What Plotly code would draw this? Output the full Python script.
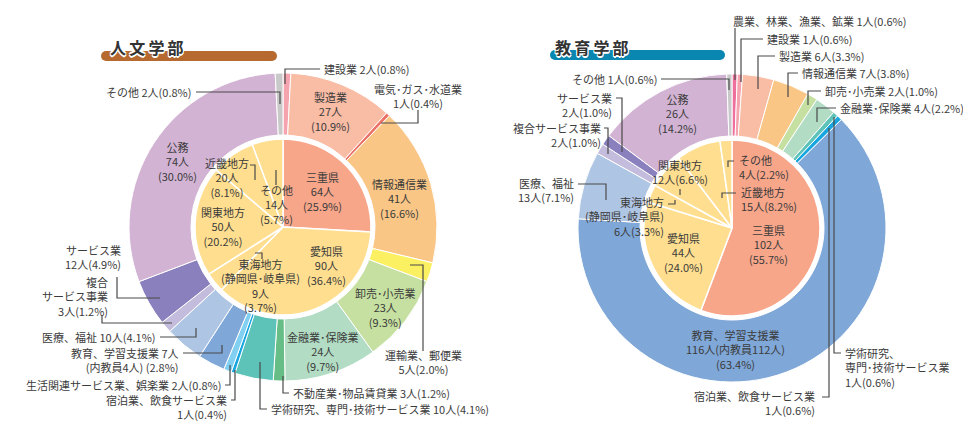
import plotly.graph_objects as go

W, H = 963, 423

# ---------------- data ----------------
hum_region_labels = ["三重県", "愛知県", "東海地方", "関東地方", "近畿地方", "その他"]
hum_region_values = [64, 90, 9, 50, 20, 14]
hum_region_pct = ["25.9", "36.4", "3.7", "20.2", "8.1", "5.7"]

hum_ind_labels = ["建設業", "製造業", "電気・ガス・水道業", "情報通信業", "運輸業、郵便業",
                  "卸売・小売業", "金融業・保険業", "不動産業・物品賃貸業",
                  "学術研究、専門・技術サービス業", "宿泊業、飲食サービス業",
                  "生活関連サービス業、娯楽業", "教育、学習支援業", "医療、福祉",
                  "複合サービス事業", "サービス業", "公務", "その他"]
hum_ind_values = [2, 27, 1, 41, 5, 23, 24, 3, 10, 1, 2, 7, 10, 3, 12, 74, 2]
hum_ind_pct = ["0.8", "10.9", "0.4", "16.6", "2.0", "9.3", "9.7", "1.2", "4.1", "0.4",
               "0.8", "2.8", "4.1", "1.2", "4.9", "30.0", "0.8"]

edu_region_labels = ["三重県", "愛知県", "東海地方", "関東地方", "近畿地方", "その他"]
edu_region_values = [102, 44, 6, 12, 15, 4]
edu_region_pct = ["55.7", "24.0", "3.3", "6.6", "8.2", "2.2"]

edu_ind_labels = ["農業、林業、漁業、鉱業", "建設業", "製造業", "情報通信業", "卸売・小売業",
                  "金融業・保険業", "学術研究、専門・技術サービス業", "宿泊業、飲食サービス業",
                  "教育、学習支援業", "医療、福祉", "複合サービス事業", "サービス業", "公務", "その他"]
edu_ind_values = [1, 1, 6, 7, 2, 4, 1, 1, 116, 13, 2, 2, 26, 1]
edu_ind_pct = ["0.6", "0.6", "3.3", "3.8", "1.0", "2.2", "0.6", "0.6", "63.4", "7.1",
               "1.0", "1.0", "14.2", "0.6"]

# ---------------- styles ----------------
IND_COLORS = {
    "農業、林業、漁業、鉱業": "#EF6F9C",
    "建設業": "#F5A3AE",
    "製造業": "#F9BCA5",
    "電気・ガス・水道業": "#EC7267",
    "情報通信業": "#FAC685",
    "運輸業、郵便業": "#FBEF62",
    "卸売・小売業": "#C6E0A1",
    "金融業・保険業": "#B2DDC4",
    "不動産業・物品賃貸業": "#66BE86",
    "学術研究、専門・技術サービス業": "#5DC3B8",
    "宿泊業、飲食サービス業": "#17A6DF",
    "生活関連サービス業、娯楽業": "#82D0F1",
    "教育、学習支援業": "#7FA7D8",
    "医療、福祉": "#AFC5E4",
    "複合サービス事業": "#C4BCDC",
    "サービス業": "#8A80BD",
    "公務": "#D2B3D4",
    "その他": "#C9C9C9",
}
MIE = "#F7A68A"
OTHER_REGION = "#FFDF8F"

FONT = "Noto Sans CJK JP"
TXT = "#3b3b3b"
LINE = "#4a4a4a"

fig = go.Figure()


def dom(cx, cy, r):
    return dict(x=[(cx - r) / W, (cx + r) / W], y=[(H - cy - r) / H, (H - cy + r) / H])


def add_donut(ind_labels, ind_values, reg_labels, reg_values, cx, cy):
    R_OUT, R_HOLE, R_IN = 154, 92, 88
    fig.add_trace(go.Pie(
        labels=ind_labels, values=ind_values, sort=False, direction="clockwise", rotation=0,
        hole=R_HOLE / R_OUT, textinfo="none", hoverinfo="skip", showlegend=False,
        marker=dict(colors=[IND_COLORS[n] for n in ind_labels], line=dict(color="white", width=1)),
        domain=dom(cx, cy, R_OUT)))
    fig.add_trace(go.Pie(
        labels=reg_labels, values=reg_values, sort=False, direction="clockwise", rotation=0,
        textinfo="none", hoverinfo="skip", showlegend=False,
        marker=dict(colors=[MIE] + [OTHER_REGION] * (len(reg_labels) - 1),
                    line=dict(color="white", width=1.5)),
        domain=dom(cx, cy, R_IN)))


add_donut(hum_ind_labels, hum_ind_values, hum_region_labels, hum_region_values, 283, 227)
add_donut(edu_ind_labels, edu_ind_values, edu_region_labels, edu_region_values, 732, 228)

annotations = []
shapes = []


def label(text, x, y, anchor="center", size=11):
    annotations.append(dict(text=text, x=x / W, y=1 - y / H, xref="paper", yref="paper",
                            xanchor=anchor, yanchor="middle", align=anchor, showarrow=False,
                            font=dict(family=FONT, size=size, color=TXT)))


def leader(pts):
    path = "M " + " L ".join(f"{x / W:.5f},{1 - y / H:.5f}" for x, y in pts)
    shapes.append(dict(type="path", path=path, xref="paper", yref="paper",
                       line=dict(color=LINE, width=1.2)))


DATA = {
    "hi": (hum_ind_values, hum_ind_pct),
    "hr": (hum_region_values, hum_region_pct),
    "ei": (edu_ind_values, edu_ind_pct),
    "er": (edu_region_values, edu_region_pct),
}

# (series, index, template, x, y, anchor, leader)
specs = [
    # 人文学部 outer
    ("hi", 16, "その他 {v}人({p}%)", 193, 92, "right", [(196, 92), (280, 92), (280, 104)]),
    ("hi", 0, "建設業 {v}人({p}%)", 322, 69, "left", [(320, 69), (285, 69), (285, 84)]),
    ("hi", 1, "製造業<br>{v}人<br>({p}%)", 330, 112, "center", None),
    ("hi", 2, "電気･ガス･水道業<br>{v}人({p}%)", 418, 96, "center", [(418, 110), (418, 123), (381, 123)]),
    ("hi", 3, "情報通信業<br>{v}人<br>({p}%)", 399, 198, "center", None),
    ("hi", 4, "運輸業、郵便業<br>{v}人({p}%)", 423, 362, "center", [(410, 265), (423, 265), (423, 351)]),
    ("hi", 5, "卸売･小売業<br>{v}人<br>({p}%)", 385, 307, "center", None),
    ("hi", 6, "金融業･保険業<br>{v}人<br>({p}%)", 323, 351, "center", None),
    ("hi", 7, "不動産業･物品賃貸業 {v}人({p}%)", 291, 393, "left", [(283, 376), (283, 393), (289, 393)]),
    ("hi", 8, "学術研究、専門･技術サービス業 {v}人({p}%)", 269, 409, "left", [(260, 362), (260, 409), (267, 409)]),
    ("hi", 9, "宿泊業、飲食サービス業<br>{v}人({p}%)", 229, 407, "right", [(235, 370), (235, 400), (231, 400)]),
    ("hi", 10, "生活関連サービス業、娯楽業 {v}人({p}%)", 223, 385, "right", [(230, 365), (230, 385), (225, 385)]),
    ("hi", 11, "教育、学習支援業 {v}人<br>(内教員4人) ({p}%)", 181, 360, "right", [(222, 345), (222, 353), (183, 353)]),
    ("hi", 12, "医療、福祉 {v}人({p}%)", 158, 337, "right", [(196, 328), (196, 337), (160, 337)]),
    ("hi", 13, "複合<br>サービス事業<br>{v}人({p}%)", 110, 296, "right", [(102, 315), (102, 323), (172, 323)]),
    ("hi", 14, "サービス業<br>{v}人({p}%)", 123, 257, "right", [(117, 277), (117, 298), (160, 298)]),
    ("hi", 15, "公務<br>{v}人<br>({p}%)", 177, 161, "center", None),
    # 人文学部 inner
    ("hr", 0, "三重県<br>{v}人<br>({p}%)", 322, 191, "center", None),
    ("hr", 1, "愛知県<br>{v}人<br>({p}%)", 326, 265, "center", None),
    ("hr", 2, "東海地方<br>(静岡県･岐阜県)<br>{v}人<br>({p}%)", 260, 285, "center", [(255, 253), (262, 253), (262, 259)]),
    ("hr", 3, "関東地方<br>{v}人<br>({p}%)", 223, 226, "center", None),
    ("hr", 4, "近畿地方<br>{v}人<br>({p}%)", 227, 178, "center", [(250, 165), (255, 165), (255, 180)]),
    ("hr", 5, "その他<br>{v}人<br>({p}%)", 276, 205, "center", [(276, 170), (276, 185)]),
    # 教育学部 outer
    ("ei", 0, "農業、林業、漁業、鉱業 {v}人({p}%)", 731, 21, "left", [(735, 28), (735, 80)]),
    ("ei", 1, "建設業 {v}人({p}%)", 765, 39, "left", [(763, 39), (741, 39), (741, 82)]),
    ("ei", 2, "製造業 {v}人({p}%)", 777, 56, "left", [(775, 56), (758, 56), (758, 89)]),
    ("ei", 3, "情報通信業 {v}人({p}%)", 800, 73, "left", [(798, 73), (788, 73), (788, 97)]),
    ("ei", 4, "卸売･小売業 {v}人({p}%)", 823, 91, "left", [(821, 91), (808, 91), (808, 105)]),
    ("ei", 5, "金融業･保険業 {v}人({p}%)", 838, 108, "left", [(836, 108), (817, 108), (817, 122)]),
    ("ei", 6, "学術研究、<br>専門･技術サービス業<br>{v}人({p}%)", 843, 367, "left", [(834, 117), (834, 353), (841, 353)]),
    ("ei", 7, "宿泊業、飲食サービス業<br>{v}人({p}%)", 817, 403, "right", [(829, 128), (829, 397), (822, 397)]),
    ("ei", 8, "教育、学習支援業<br>{v}人(内教員112人)<br>({p}%)", 735, 349, "center", None),
    ("ei", 9, "医療、福祉<br>{v}人({p}%)", 576, 190, "right", [(578, 184), (606, 184), (606, 200)]),
    ("ei", 10, "複合サービス事業<br>{v}人({p}%)", 603, 135, "right", [(604, 128), (608, 128), (608, 154)]),
    ("ei", 11, "サービス業<br>{v}人({p}%)", 614, 105, "right", [(616, 98), (622, 98), (622, 152)]),
    ("ei", 12, "公務<br>{v}人<br>({p}%)", 677, 114, "center", None),
    ("ei", 13, "その他 {v}人({p}%)", 659, 79, "right", [(661, 79), (729, 79), (729, 90)]),
    # 教育学部 inner
    ("er", 0, "三重県<br>{v}人<br>({p}%)", 768, 244, "center", None),
    ("er", 1, "愛知県<br>{v}人<br>({p}%)", 683, 252, "center", None),
    ("er", 2, "東海地方<br>(静岡県･岐阜県)<br>{v}人({p}%)", 666, 217, "right", [(668, 204), (675, 204), (675, 200)]),
    ("er", 3, "関東地方<br>{v}人({p}%)", 680, 172, "center", [(680, 189), (680, 195)]),
    ("er", 4, "近畿地方<br>{v}人({p}%)", 739, 199, "left", [(722, 198), (722, 193), (736, 193)]),
    ("er", 5, "その他<br>{v}人({p}%)", 737, 167, "left", [(728, 167), (728, 161), (734, 161)]),
]

for key, i, tpl, x, y, anc, pts in specs:
    vals, pcts = DATA[key]
    label(tpl.format(v=vals[i], p=pcts[i]), x, y, anc)
    if pts:
        leader(pts)


# titles with rounded bars
def title_bar(text, x1, x2, y1, y2, color, tx, ty):
    r = (y2 - y1) / 2
    shapes.append(dict(type="rect", xref="paper", yref="paper", x0=(x1 + r) / W, x1=(x2 - r) / W,
                       y0=1 - y2 / H, y1=1 - y1 / H, fillcolor=color, line=dict(width=0), layer="above"))
    for cx in (x1 + r, x2 - r):
        shapes.append(dict(type="circle", xref="paper", yref="paper", x0=(cx - r) / W, x1=(cx + r) / W,
                           y0=1 - y2 / H, y1=1 - y1 / H, fillcolor=color, line=dict(width=0), layer="above"))
    annotations.append(dict(text=text, x=tx / W, y=1 - ty / H, xref="paper", yref="paper",
                            xanchor="left", yanchor="middle", showarrow=False,
                            font=dict(family=FONT, size=16, color="#333333", weight="bold",
                                      shadow="1px 1px 0 #fff, -1px -1px 0 #fff, 1px -1px 0 #fff, -1px 1px 0 #fff, 0 2px 0 #fff, 0 -2px 0 #fff")))


title_bar("人\u2009文\u2009学\u2009部", 101, 277, 51, 61, "#B66A2F", 108, 47)
title_bar("教\u2009育\u2009学\u2009部", 550, 725, 50, 60, "#0A87B1", 553, 47)

fig.update_layout(width=W, height=H, margin=dict(l=0, r=0, t=0, b=0),
                  paper_bgcolor="white", plot_bgcolor="white",
                  annotations=annotations, shapes=shapes, showlegend=False)

fig.write_html("out.html", config={"displayModeBar": False},
               post_script="document.body.style.margin='0';document.body.style.overflow='hidden';")
